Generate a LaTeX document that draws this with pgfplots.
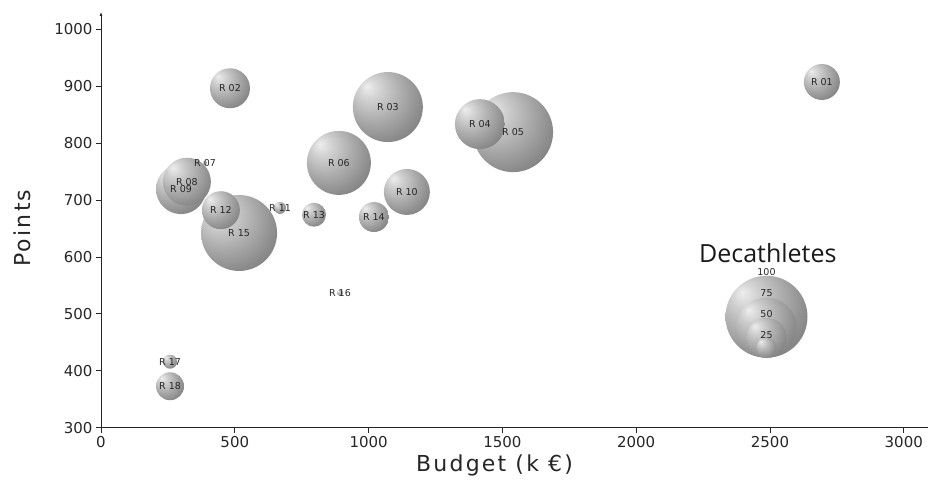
\documentclass[border=0pt]{standalone}
\usepackage{pgfplots}
\pgfplotsset{compat=1.18}
\usepackage{pgfplotstable}
\usepackage{fontspec}
\setmainfont{DejaVu Sans}
\newfontfamily\titlefont{Open Sans}
\newfontfamily\labelfont[LetterSpace=10]{DejaVu Sans}
\usetikzlibrary{arrows.meta}

% gray sphere look, highlight upper left
\pgfdeclareradialshading{bubble}{\pgfqpoint{-15bp}{15bp}}{%
  color(0bp)=(white!93!black);
  color(8bp)=(white!82!black);
  color(20bp)=(white!68!black);
  color(32bp)=(white!55!black);
  color(42bp)=(white!46!black);
  color(50bp)=(white!40!black);
  color(70bp)=(white!40!black)}
\pgfdeclareplotmark{ball}{\shade[shading=bubble, draw=none] (0pt,0pt) circle[radius=\pgfplotmarksize];}

% budget, points, bubble radius (pt), label -- drawn largest first
\pgfplotstableread[col sep=comma]{
x,y,r,label
1540,819,40,R 05
516,642,38,R 15
1072,863,35,R 03
889,765,32,R 06
299,719,25,R 09
1416,833,25,R 04
321,732,24,R 08
1143,714,23,R 10
482,896,20,R 02
448,682,19,R 12
2694,907,18,R 01
1020,670,15,R 14
258,373,14,R 18
796,674,12,R 13
258,416,7,R 17
669,686,6,R 11
893,537,3,R 16
389,765,2,R 07
}\bubbles

\pgfplotstableread[col sep=comma]{
x,y,r,ly,label
2487,495,41,574,100
2487,476,30,537,75
2487,458,20,500,50
2487,441,10,463,25
}\sizekey

\begin{document}
\begin{tikzpicture}
\begin{axis}[
    scale only axis,
    width=827pt, height=416pt,
    xmin=0, xmax=3090,
    ymin=300, ymax=1030,
    clip=false,
    axis x line=bottom,
    axis y line=left,
    x axis line style={-},
    y axis line style={-{Latex[length=4pt,width=3pt]}},
    axis line style={black!85, line width=0.8pt},
    xtick={0,500,...,3000},
    ytick={300,400,...,1000},
    tick align=outside,
    major tick length=5pt,
    tick style={black!85, line width=0.8pt},
    /pgf/number format/assume math mode=true,
    /pgf/number format/1000 sep={},
    ticklabel style={font=\fontsize{15}{18}\selectfont, text=black!85},
    xlabel={Budget (k €)},
    ylabel={Points},
    every axis x label/.style={at={(axis description cs:0.476,-0.091)}, anchor=center,
      font=\labelfont\fontsize{22}{26}\selectfont, text=black!85},
    every axis y label/.style={at={(axis description cs:-0.0955,0.48)}, rotate=90, anchor=center,
      font=\labelfont\fontsize{22}{26}\selectfont, text=black!85},
  ]
  % bubbles
  \addplot[scatter, only marks, mark=ball,
    visualization depends on={\thisrow{r} \as \rad},
    scatter/@pre marker code/.append style={/tikz/mark size=\rad}]
    table[x=x, y=y] {\bubbles};
  % bubble labels
  \addplot[draw=none, mark=none, nodes near coords, point meta=explicit symbolic,
    nodes near coords style={anchor=center, inner sep=0pt, font=\fontsize{9.5}{11}\selectfont, text=black!85}]
    table[x=x, y=y, meta=label] {\bubbles};
  % size key
  \addplot[scatter, only marks, mark=ball,
    visualization depends on={\thisrow{r} \as \rad},
    scatter/@pre marker code/.append style={/tikz/mark size=\rad}]
    table[x=x, y=y] {\sizekey};
  \addplot[draw=none, mark=none, nodes near coords, point meta=explicit symbolic,
    nodes near coords style={anchor=center, inner sep=0pt, font=\fontsize{9.5}{11}\selectfont, text=black!85}]
    table[x=x, y=ly, meta=label] {\sizekey};
  \node[text=black!90] at (axis cs:2492,607) {\titlefont\fontsize{25}{30}\selectfont Decathletes};
  % page frame
  \path (axis cs:-377.4,1050.9) rectangle (axis cs:3098,198.2);
\end{axis}
\end{tikzpicture}
\end{document}
